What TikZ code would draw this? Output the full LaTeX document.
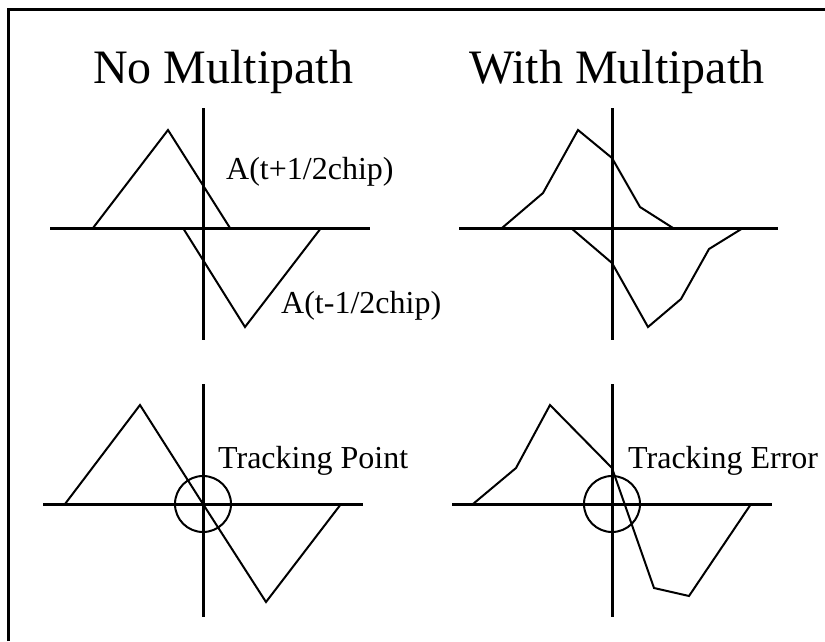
\documentclass[tikz,border=0pt]{standalone}
\usepackage{fontspec}
\setmainfont{Liberation Serif}
\begin{document}
\begin{tikzpicture}[x=1pt,y=-1pt,
  frame/.style={line width=3pt},
  axis/.style={line width=3pt},
  curve/.style={line width=2pt, line join=miter},
  lbl/.style={anchor=base west, inner sep=0pt, font=\fontsize{32}{32}\selectfont},
  ttl/.style={anchor=base west, inner sep=0pt, font=\fontsize{48}{48}\selectfont}]
\useasboundingbox (0,0) rectangle (825,641);
% frame (only top and left visible)
\draw[frame] (8,641) -- (8,9) -- (825,9);
% titles
\node[ttl] (t1) at (93,83) {No Multipath};
\node[ttl] (t2) at (469,83) {With Multipath};
% top-left
\draw[axis] (50,228) -- (370,228);
\draw[axis] (203,108) -- (203,340);
\draw[curve] (93,228) -- (168,130) -- (230,228);
\draw[curve] (183,228) -- (245,327) -- (321,228);
\node[lbl] (la) at (226,179) {A(t+1/2chip)};
\node[lbl] (lb) at (281,313) {A(t-1/2chip)};
% top-right
\draw[axis] (459,228) -- (778,228);
\draw[axis] (612,108) -- (612,340);
\draw[curve] (502,228) -- (543,193) -- (578,130) -- (612,158) -- (640,207) -- (673,228);
\draw[curve] (571,228) -- (612,263) -- (648,327) -- (681,299) -- (709,249) -- (743,228);
% bottom-left
\draw[axis] (43,504) -- (363,504);
\draw[axis] (203,384) -- (203,617);
\draw[curve] (65,504) -- (140,405) -- (203,504) -- (266,602) -- (341,504);
\draw[curve] (203,504) circle [radius=28];
\node[lbl] (lp) at (218,468) {Tracking Point};
% bottom-right
\draw[axis] (452,504) -- (772,504);
\draw[axis] (612,384) -- (612,617);
\draw[curve] (473,504) -- (516,468) -- (550,405) -- (612,468) -- (654,588) -- (689,596) -- (751,504);
\draw[curve] (612,504) circle [radius=28];
\node[lbl] (le) at (628,468) {Tracking Error};
\end{tikzpicture}
\end{document}
